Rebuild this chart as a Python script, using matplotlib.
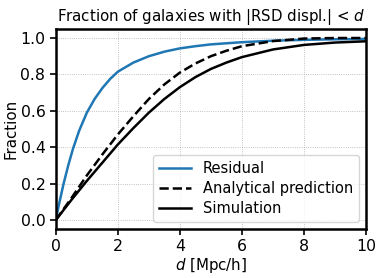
import numpy as np
from matplotlib import pyplot as plt

# Values
d_res = [0, 0.1, 0.25, 0.4, 0.55, 0.75, 1.0, 1.25, 1.5, 1.75, 2, 2.5, 3, 3.5, 4, 4.5, 5, 6, 7, 8, 9, 10]
residual = [0, 0.085, 0.2, 0.3, 0.39, 0.49, 0.59, 0.665, 0.725, 0.775, 0.815, 0.865, 0.9, 0.925,
            0.943, 0.955, 0.965, 0.977, 0.985, 0.99, 0.993, 0.995]

d_ana = [0, 0.5, 1.0, 1.5, 2.0, 2.5, 3, 3.5, 4, 4.5, 5, 5.5, 6, 7, 8, 9, 10]
analytical = [0, 0.12, 0.245, 0.36, 0.47, 0.57, 0.665, 0.745, 0.81, 0.86, 0.9, 0.93, 0.955,
              0.983, 0.997, 1.0, 1.0]

d_sim = [0, 0.5, 1.0, 1.5, 2.0, 2.5, 3, 3.5, 4, 4.5, 5, 5.5, 6, 7, 8, 9, 10]
simulation = [0, 0.11, 0.215, 0.315, 0.415, 0.505, 0.59, 0.665, 0.73, 0.785, 0.83, 0.865, 0.895,
              0.937, 0.962, 0.975, 0.982]

plt.rcParams['font.size'] = 10.8

fig = plt.figure(figsize=(3.8, 2.78), dpi=100)
ax = fig.add_axes([0.147, 0.176, 0.816, 0.72])

ax.plot(d_res, residual, color='#1f77b4', lw=1.8, label='Residual')
ax.plot(d_ana, analytical, color='black', ls='--', lw=1.8, label='Analytical prediction')
ax.plot(d_sim, simulation, color='black', lw=1.8, label='Simulation')

ax.set_xlim(0, 10)
ax.set_ylim(-0.05, 1.05)
ax.set_xticks(np.arange(0, 11, 2))
ax.set_yticks(np.arange(0, 1.01, 0.2))
ax.grid(True, ls=':', color='#b0b0b0', lw=0.6)
for s in ax.spines.values():
    s.set_linewidth(1.8)
ax.tick_params(width=1.2, length=4, labelsize=11.3)

ax.set_xlabel(r'$d$ [Mpc/h]', labelpad=1)
ax.set_ylabel('Fraction', labelpad=1.5)
ax.set_title(r'Fraction of galaxies with |RSD displ.| < $d$', fontsize=10.8, pad=6)
ax.legend(loc='lower right', fontsize=10.5, handlelength=2.2, borderpad=0.4, labelspacing=0.35)

fig.savefig('out.png', dpi=100)
